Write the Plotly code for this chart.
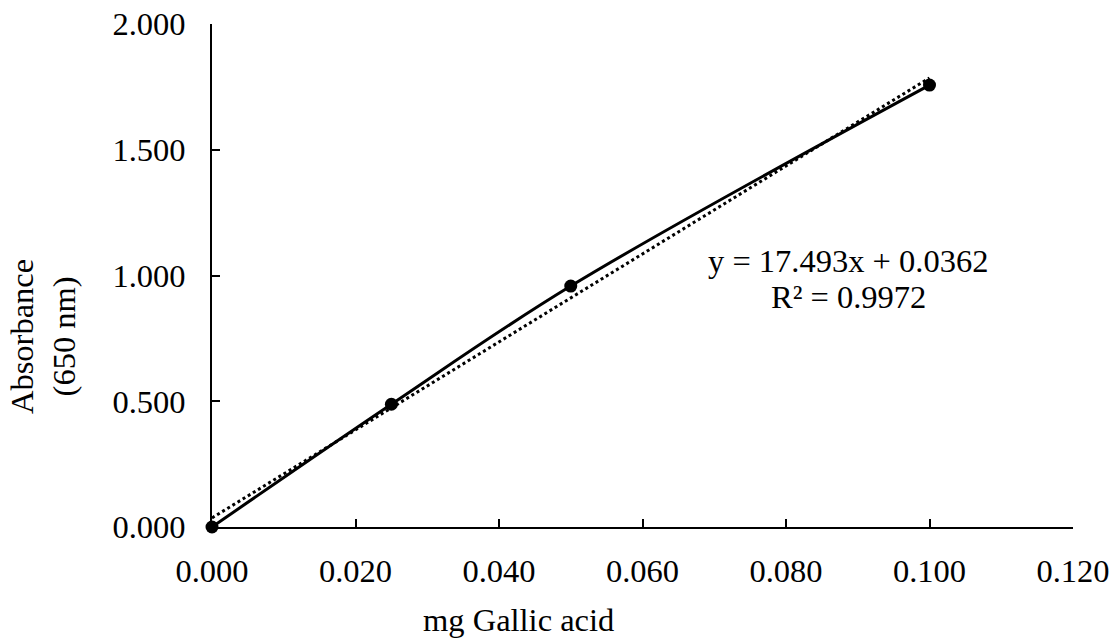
import plotly.graph_objects as go

# Data
mg_gallic = [0.000, 0.025, 0.050, 0.100]
absorbance = [0.000, 0.488, 0.958, 1.757]

# Linear trendline (as printed on chart)
slope = 17.493
intercept = 0.0362
r2 = 0.9972
trend_x = [0.000, 0.100]
trend_y = [slope * x + intercept for x in trend_x]

x_ticks = [0.000, 0.020, 0.040, 0.060, 0.080, 0.100, 0.120]
y_ticks = [0.000, 0.500, 1.000, 1.500, 2.000]

FONT = "Liberation Serif, Times New Roman, serif"
FS = 32.5

fig = go.Figure()
fig.add_trace(go.Scatter(
    x=trend_x, y=trend_y, mode="lines",
    line=dict(color="black", width=3, dash="dot"),
    showlegend=False, hoverinfo="skip"))
fig.add_trace(go.Scatter(
    x=mg_gallic, y=absorbance, mode="lines+markers",
    line=dict(color="black", width=3, shape="spline", smoothing=1.0),
    marker=dict(color="black", size=13),
    cliponaxis=False,
    showlegend=False))

fig.update_layout(
    template="none",
    width=1112, height=641,
    margin=dict(l=212, r=39, t=24, b=114),
    paper_bgcolor="white", plot_bgcolor="white",
    font=dict(family=FONT, size=FS, color="black"),
    xaxis=dict(range=[0, 0.12], tickvals=x_ticks, tickformat=".3f",
               automargin=False,
               showgrid=False, zeroline=False, showline=True,
               linecolor="black", linewidth=2, ticks="inside",
               ticklen=8, tickwidth=2, tickcolor="black",
               ticklabelstandoff=14),
    yaxis=dict(range=[0, 2], tickvals=y_ticks, tickformat=".3f",
               automargin=False,
               showgrid=False, zeroline=False, showline=True,
               linecolor="black", linewidth=2, ticks="inside",
               ticklen=8, tickwidth=2, tickcolor="black",
               ticklabelstandoff=18),
    annotations=[
        dict(text="mg Gallic acid", xref="paper", yref="paper",
             x=(518 - 212) / 861, y=(527 - 620) / 503,
             xanchor="center", yanchor="middle", showarrow=False,
             font=dict(family=FONT, size=FS)),
        dict(text="Absorbance<br>(650 nm)", xref="paper", yref="paper",
             x=(43 - 212) / 861, y=(527 - 337) / 503, textangle=-90,
             xanchor="center", yanchor="middle", showarrow=False,
             font=dict(family=FONT, size=FS)),
        dict(text=f"y = {slope}x + {intercept}", xref="paper", yref="paper",
             x=(848 - 212) / 861, y=(527 - 261) / 503,
             xanchor="center", yanchor="middle", showarrow=False,
             font=dict(family=FONT, size=FS)),
        dict(text=f"R² = {r2}", xref="paper", yref="paper",
             x=(848 - 212) / 861, y=(527 - 297) / 503,
             xanchor="center", yanchor="middle", showarrow=False,
             font=dict(family=FONT, size=FS)),
    ],
)

fig.write_html("out.html",
               config={"displayModeBar": False},
               post_script="document.body.style.margin='0px';document.body.style.overflow='hidden';")
